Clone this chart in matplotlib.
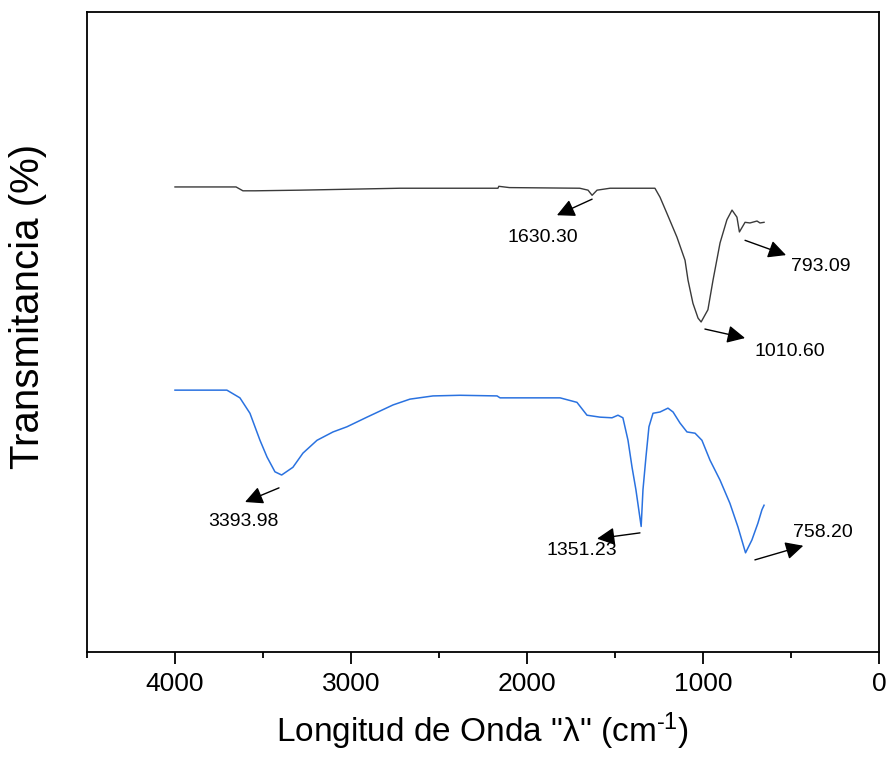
import numpy as np
import matplotlib
matplotlib.use("Agg")
import matplotlib.pyplot as plt

plt.rcParams['font.family'] = ['Liberation Sans', 'DejaVu Sans']
plt.rcParams['mathtext.fontset'] = 'custom'
plt.rcParams['mathtext.rm'] = 'Liberation Sans'
plt.rcParams['mathtext.it'] = 'Liberation Sans:italic'

# espectro superior (negro)
wn_top = [4000, 3653, 3614, 3545, 3290, 2722, 2165, 2160, 2100, 1700, 1653, 1630,
          1602, 1528, 1273, 1244, 1205, 1148, 1102, 1085, 1057, 1028, 1010.6, 972,
          943, 903, 864, 835, 807, 793, 761, 733, 693, 676, 653]
t_top = [72.8, 72.8, 72.2, 72.2, 72.3, 72.6, 72.6, 72.9, 72.7, 72.6, 72.3, 71.5,
         72.3, 72.6, 72.6, 71.2, 68.7, 65.0, 61.4, 58.3, 54.7, 52.4, 51.8, 53.7,
         58.3, 64.1, 67.7, 69.2, 68.1, 65.8, 67.3, 67.2, 67.5, 67.2, 67.3]

# espectro inferior (azul)
wn_bot = [4000, 3705, 3631, 3574, 3517, 3477, 3432, 3394, 3330, 3273, 3193, 3102,
          3023, 2909, 2761, 2665, 2534, 2381, 2170, 2153, 1812, 1716, 1659, 1585,
          1517, 1483, 1455, 1426, 1403, 1381, 1351.2, 1341, 1324, 1307, 1284, 1244,
          1199, 1170, 1131, 1091, 1045, 1006, 960, 903, 847, 801, 758.2, 722, 688,
          665, 653]
t_bot = [41.2, 41.2, 40.0, 37.6, 33.4, 30.8, 28.5, 28.0, 29.2, 31.4, 33.4, 34.7,
         35.5, 37.0, 38.9, 39.8, 40.3, 40.4, 40.3, 40.0, 40.0, 39.3, 37.3, 37.0,
         36.9, 37.3, 36.9, 33.4, 29.2, 25.7, 20.0, 25.7, 30.8, 35.5, 37.6, 37.8,
         38.4, 37.8, 36.1, 34.7, 34.5, 33.4, 30.3, 27.2, 23.6, 19.9, 15.9, 17.9, 20.5,
         22.6, 23.3]

# etiquetas de picos: texto, inicio flecha, punta flecha, posicion texto
peak_labels = ['1630.30', '793.09', '1010.60', '3393.98', '1351.23', '758.20']
arrow_tail = [(1630, 70.9), (761, 64.5), (989, 50.7), (3409, 26.0), (1358, 19.0), (705, 14.8)]
arrow_head = [(1830, 68.4), (528, 62.2), (761, 49.3), (3602, 23.8), (1602, 18.1), (430, 17.0)]
label_pos = [(1909, 64.9), (330, 60.5), (506, 47.2), (3613, 20.8), (1690, 16.2), (319, 19.0)]

fig = plt.figure(figsize=(8.93, 7.58), dpi=100)
ax = fig.add_axes([0.0974, 0.1398, 0.8869, 0.8443])

ax.plot(wn_top, t_top, color='#3a3a3a', lw=1.0)
ax.plot(wn_bot, t_bot, color='#2a72e0', lw=1.1)

for lab, tail, head, pos in zip(peak_labels, arrow_tail, arrow_head, label_pos):
    ax.annotate('', xy=head, xytext=tail,
                arrowprops=dict(arrowstyle='-|>', color='black', lw=1.0,
                                mutation_scale=27, shrinkA=0, shrinkB=0))
    ax.text(pos[0], pos[1], lab, fontsize=14, ha='center', va='center')

ax.set_xlim(4500, 0)
ax.set_ylim(0.47, 100)
ax.set_xticks([4000, 3000, 2000, 1000, 0])
ax.set_xticks([4500, 3500, 2500, 1500, 500], minor=True)
ax.set_yticks([])
ax.tick_params(axis='x', which='major', direction='out', length=8.6, width=1.3,
               labelsize=19, pad=6)
ax.tick_params(axis='x', which='minor', direction='out', length=4.5, width=1.3)
for s in ax.spines.values():
    s.set_linewidth(1.3)

ax.set_xlabel('Longitud de Onda "λ" (cm$^{\\text{-1}}$)', fontsize=24, labelpad=10)
ax.set_ylabel('Transmitancia (%)', fontsize=29)
ax.yaxis.set_label_coords(-0.050, 0.54)

fig.savefig('out.png', dpi=100)
